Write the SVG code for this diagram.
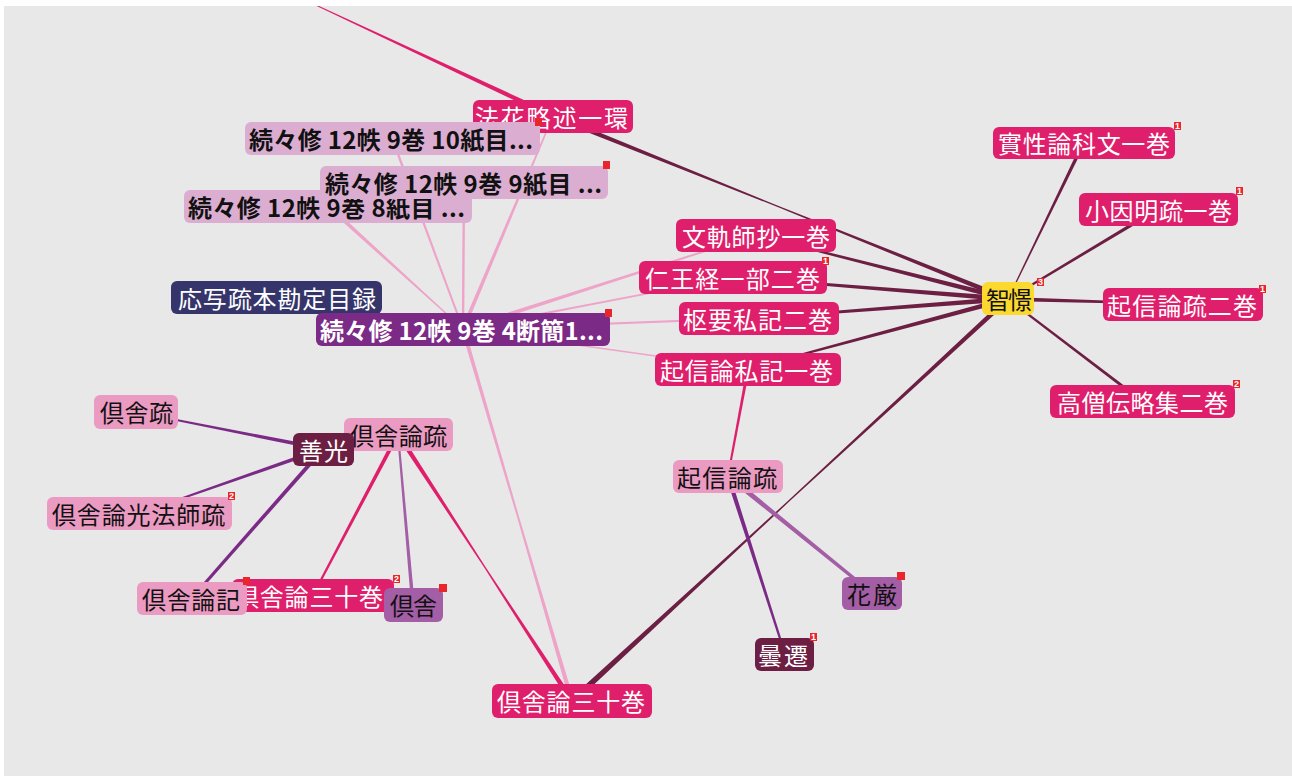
<svg xmlns="http://www.w3.org/2000/svg" width="1292" height="776" viewBox="0 0 1292 776">
<style>
text{font-family:"Noto Sans CJK JP","Liberation Sans",sans-serif;font-size:24px;dominant-baseline:central}
.w{fill:#ffffff}.k{fill:#111111}.bd{font-weight:bold}
.crim{fill:#df1f6b}.lp{fill:#eb9ac1}.mv{fill:#dbaed1}.nv{fill:#35356b}.pu{fill:#7b2a86}.mr{fill:#6c1f43}.lv{fill:#a35ea6}.ye{fill:#fcd92f}
.bg{fill:#e8262b}
.bt{font-family:"Liberation Sans",sans-serif;font-size:9px;font-weight:bold;fill:#fff;text-anchor:middle;dominant-baseline:central}
.eM{fill:#6c1f43}.eP{fill:#eea3c9}.eC{fill:#df1f6b}.eU{fill:#7b2a86}.eL{fill:#a35ea6}
</style>
<defs>
<clipPath id="area"><rect x="4" y="6" width="1288" height="770"/></clipPath>
</defs>
<rect x="0" y="0" width="1292" height="776" fill="#ffffff"/>
<rect x="4" y="6" width="1288" height="770" fill="#e8e8e8"/>
<g id="connectors" clip-path="url(#area)">
<polygon class="eM" transform="translate(553 116) rotate(21.91)" points="0,-2.5 245,-0.6 490,-2.5 490,2.5 245,0.6 0,2.5"/>
<polygon class="eM" transform="translate(572 701) rotate(-42.68)" points="0,-3 296,-0.7 593,-2.5 593,2.5 296,0.7 0,3"/>
<polygon class="eM" transform="translate(755 235) rotate(14.20)" points="0,-0.75 261,-2.5 261,2.5 0,0.75"/>
<polygon class="eM" transform="translate(733 277) rotate(4.57)" points="0,-1 276,-2.5 276,2.5 0,1"/>
<polygon class="eM" transform="translate(758 318) rotate(-4.35)" points="0,-1 251,-2.5 251,2.5 0,1"/>
<polygon class="eM" transform="translate(748 369) rotate(-15.07)" points="0,-0.75 269,-2.5 269,2.5 0,0.75"/>
<polygon class="eM" transform="translate(1008 299) rotate(-64.17)" points="0,-0.5 174,-1.8 174,1.8 0,0.5"/>
<polygon class="eM" transform="translate(1008 299) rotate(-30.96)" points="0,-1 175,-1.8 175,1.8 0,1"/>
<polygon class="eM" transform="translate(1008 299) rotate(1.65)" points="0,-2 174,-0.75 174,0.75 0,2"/>
<polygon class="eM" transform="translate(1008 299) rotate(37.28)" points="0,-1 168,-1.5 168,1.5 0,1"/>
<polygon class="eP" transform="translate(463 329) rotate(73.67)" points="0,-2 194,-1 388,-2.2 388,2.2 194,1 0,2"/>
<polygon class="eP" transform="translate(328 206) rotate(42.33)" points="0,-2 183,-0.5 183,0.5 0,2"/>
<polygon class="eP" transform="translate(392 138) rotate(69.61)" points="0,-1.2 204,-1 204,1 0,1.2"/>
<polygon class="eP" transform="translate(464 182) rotate(90.39)" points="0,-1.2 147,-1.2 147,1.2 0,1.2"/>
<polygon class="eP" transform="translate(553 116) rotate(112.91)" points="0,-0.75 231,-2 231,2 0,0.75"/>
<polygon class="eP" transform="translate(463 329) rotate(-17.84)" points="0,-2 307,-0.75 307,0.75 0,2"/>
<polygon class="eP" transform="translate(463 329) rotate(-10.90)" points="0,-1.2 275,-0.75 275,0.75 0,1.2"/>
<polygon class="eP" transform="translate(463 329) rotate(-2.14)" points="0,-1.2 295,-1 295,1 0,1.2"/>
<polygon class="eP" transform="translate(463 329) rotate(7.99)" points="0,-0.8 288,-0.8 288,0.8 0,0.8"/>
<polygon class="eC" transform="translate(305 0) rotate(25.07)" points="0,-0.4 274,-2.5 274,2.5 0,0.4"/>
<polygon class="eC" transform="translate(398 434) rotate(117.83)" points="0,-2 182,-1 182,1 0,2"/>
<polygon class="eC" transform="translate(398 434) rotate(56.91)" points="0,-2.5 159,-0.7 319,-2.5 319,2.5 159,0.7 0,2.5"/>
<polygon class="eC" transform="translate(748 369) rotate(100.59)" points="0,-1.5 109,-1 109,1 0,1.5"/>
<polygon class="eU" transform="translate(136 412) rotate(11.19)" points="0,-0.75 191,-2 191,2 0,0.75"/>
<polygon class="eU" transform="translate(140 513) rotate(-19.28)" points="0,-0.75 194,-2 194,2 0,0.75"/>
<polygon class="eU" transform="translate(192 598) rotate(-48.67)" points="0,-1.5 198,-2 198,2 0,1.5"/>
<polygon class="eU" transform="translate(728 476) rotate(72.24)" points="0,-2.2 187,-1 187,1 0,2.2"/>
<polygon class="eL" transform="translate(398 434) rotate(84.99)" points="0,-1 172,-1.8 172,1.8 0,1"/>
<polygon class="eL" transform="translate(728 476) rotate(39.09)" points="0,-2.5 186,-1.5 186,1.5 0,2.5"/>
</g>
<g id="nodes">
<g id="n-E"><rect class="nv" x="171" y="281" width="211" height="33" rx="6"/><text class="w" x="178" y="297" textLength="198" lengthAdjust="spacing">応写疏本勘定目録</text></g>
<g id="n-D"><rect class="mv" x="184" y="190" width="288" height="33" rx="6"/><text class="k bd" x="188" y="206" textLength="277" lengthAdjust="spacing">続々修 12帙 9巻 8紙目 ...</text></g>
<g id="n-A"><rect class="crim" x="473" y="100" width="160" height="33" rx="6"/><text class="w" x="475" y="116" textLength="153" lengthAdjust="spacing">法花略述一環</text></g>
<g id="n-B"><rect class="mv" x="245" y="122" width="295" height="33" rx="6"/><text class="k bd" x="249" y="138" textLength="284" lengthAdjust="spacing">続々修 12帙 9巻 10紙目...</text><rect class="bg" x="535" y="118" width="7" height="8"/></g>
<g id="n-C"><rect class="mv" x="320" y="166" width="288" height="33" rx="6"/><text class="k bd" x="325" y="182" textLength="277" lengthAdjust="spacing">続々修 12帙 9巻 9紙目 ...</text><rect class="bg" x="603" y="161" width="7" height="8"/></g>
<g id="n-F"><rect class="pu" x="316" y="313" width="294" height="33" rx="6"/><text class="w bd" x="320" y="329" textLength="283" lengthAdjust="spacing">続々修 12帙 9巻 4断簡1...</text><rect class="bg" x="605" y="309" width="7" height="8"/></g>
<g id="n-G"><rect class="ye" x="982" y="282" width="52" height="33" rx="6"/><text class="k" x="986" y="298" textLength="46" lengthAdjust="spacing">智憬</text><rect class="bg" x="1037" y="278" width="7" height="8"/><text class="bt" x="1040.5" y="282">3</text></g>
<g id="n-H"><rect class="crim" x="993" y="127" width="182" height="32" rx="6"/><text class="w" x="998" y="142.5" textLength="172" lengthAdjust="spacing">實性論科文一巻</text><rect class="bg" x="1174" y="122" width="7" height="8"/><text class="bt" x="1177.5" y="126">1</text></g>
<g id="n-I"><rect class="crim" x="1079" y="193" width="159" height="33" rx="6"/><text class="w" x="1085" y="209" textLength="147" lengthAdjust="spacing">小因明疏一巻</text><rect class="bg" x="1236" y="187" width="7" height="8"/><text class="bt" x="1239.5" y="191">1</text></g>
<g id="n-J"><rect class="crim" x="1103" y="288" width="160" height="33" rx="6"/><text class="w" x="1107" y="304" textLength="150" lengthAdjust="spacing">起信論疏二巻</text><rect class="bg" x="1259" y="285" width="7" height="8"/><text class="bt" x="1262.5" y="289">1</text></g>
<g id="n-K"><rect class="crim" x="1050" y="385" width="185" height="33" rx="6"/><text class="w" x="1057" y="401" textLength="171" lengthAdjust="spacing">高僧伝略集二巻</text><rect class="bg" x="1233" y="380" width="7" height="8"/><text class="bt" x="1236.5" y="384">2</text></g>
<g id="n-L"><rect class="crim" x="676" y="219" width="160" height="33" rx="6"/><text class="w" x="682" y="235" textLength="148" lengthAdjust="spacing">文軌師抄一巻</text></g>
<g id="n-M"><rect class="crim" x="639" y="261" width="188" height="33" rx="6"/><text class="w" x="645" y="277" textLength="175" lengthAdjust="spacing">仁王経一部二巻</text><rect class="bg" x="822" y="257" width="7" height="8"/><text class="bt" x="825.5" y="261">1</text></g>
<g id="n-N"><rect class="crim" x="679" y="302" width="160" height="33" rx="6"/><text class="w" x="683" y="318" textLength="149" lengthAdjust="spacing">枢要私記二巻</text></g>
<g id="n-O"><rect class="crim" x="655" y="353" width="186" height="33" rx="6"/><text class="w" x="660" y="369" textLength="173" lengthAdjust="spacing">起信論私記一巻</text></g>
<g id="n-P"><rect class="lp" x="673" y="460" width="110" height="33" rx="6"/><text class="k" x="677" y="476" textLength="100" lengthAdjust="spacing">起信論疏</text></g>
<g id="n-Q"><rect class="lv" x="842" y="577" width="60" height="33" rx="6"/><text class="k" x="847" y="593" textLength="50" lengthAdjust="spacing">花厳</text><rect class="bg" x="897" y="572" width="8" height="8"/></g>
<g id="n-R"><rect class="mr" x="755" y="638" width="59" height="33" rx="6"/><text class="w" x="758" y="654" textLength="50" lengthAdjust="spacing">曇遷</text><rect class="bg" x="810" y="633" width="7" height="8"/><text class="bt" x="813.5" y="637">1</text></g>
<g id="n-S"><rect class="crim" x="492" y="684" width="160" height="34" rx="6"/><text class="w" x="497" y="700.5" textLength="148" lengthAdjust="spacing">倶舎論三十巻</text></g>
<g id="n-T"><rect class="lp" x="94" y="395" width="84" height="34" rx="6"/><text class="k" x="100" y="411.5" textLength="73" lengthAdjust="spacing">倶舎疏</text></g>
<g id="n-V"><rect class="lp" x="344" y="418" width="109" height="33" rx="6"/><text class="k" x="350" y="434" textLength="97" lengthAdjust="spacing">倶舎論疏</text></g>
<g id="n-U"><rect class="mr" x="293" y="433" width="61" height="33" rx="6"/><text class="w" x="299" y="449" textLength="49" lengthAdjust="spacing">善光</text></g>
<g id="n-W"><rect class="lp" x="47" y="497" width="185" height="33" rx="6"/><text class="k" x="52" y="513" textLength="173" lengthAdjust="spacing">倶舎論光法師疏</text><rect class="bg" x="228" y="492" width="7" height="8"/><text class="bt" x="231.5" y="496">2</text></g>
<g id="n-Y"><rect class="crim" x="232" y="579" width="162" height="33" rx="6"/><text class="w" x="235" y="595" textLength="148" lengthAdjust="spacing">倶舎論三十巻</text><rect class="bg" x="393" y="575" width="7" height="8"/><text class="bt" x="396.5" y="579">2</text></g>
<g id="n-X"><rect class="lp" x="137" y="582" width="110" height="33" rx="6"/><text class="k" x="142" y="598" textLength="98" lengthAdjust="spacing">倶舎論記</text><rect class="bg" x="243" y="577" width="7" height="8"/></g>
<g id="n-Z"><rect class="lv" x="384" y="588" width="59" height="34" rx="6"/><text class="k" x="390" y="604.5" textLength="47" lengthAdjust="spacing">倶舎</text><rect class="bg" x="439" y="584" width="8" height="8"/></g>
</g>
</svg>
